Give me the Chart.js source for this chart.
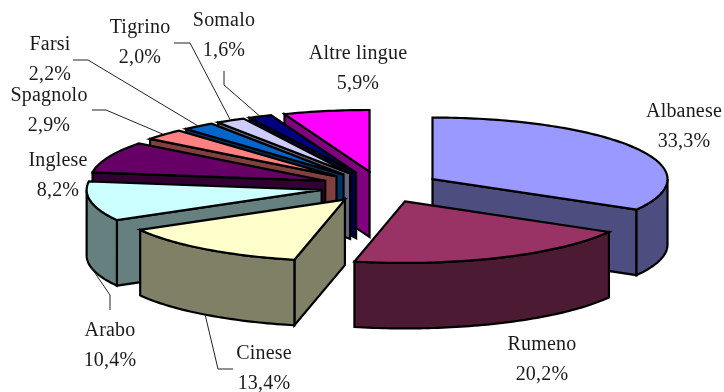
<!DOCTYPE html>
<html>
<head>
<meta charset="utf-8">
<style>html,body{margin:0;padding:0;background:#fff}canvas{display:block}</style>
<script src="https://cdn.jsdelivr.net/npm/chart.js@4"></script>
</head>
<body>
<canvas id="c" width="724" height="392"></canvas>
<script>
const categories = ['Albanese','Rumeno','Cinese','Arabo','Inglese','Spagnolo','Farsi','Tigrino','Somalo','Altre lingue'];
const shares = [33.3,20.2,13.4,10.4,8.2,2.9,2.2,2.0,1.6,5.9];
const topColors = ['#9999FF','#993366','#FFFFCC','#CCFFFF','#660066','#FF8080','#0066CC','#CCCCFF','#000080','#FF00FF'];
const wallColors = ['#4D4D80','#4D1A33','#808066','#668080','#330033','#804040','#003366','#666680','#000040','#800080'];
// label centres [x, y of name line] in page pixels
const labelX = [684,542,264,110,58,49,50,140,224,358];
const labelY = [112,345,354,331,161,96,45,28,21,54];
// leader lines: [start x, start y, elbow x, elbow y] or null
const leaders = [null,null,[233,369,218,369],[110,310,110,295],null,[92,110,106,110],[73,60,88,60],[174,43,190,43],[224,71,224,85],null];

const view = {cx:380.6, cy:187, rx:235, tilt:0.262, explode:60, depth:65.5, lineHeight:29.5};

function rimPoint(a, mid, drop){
  const r = view.rx;
  return {
    x: view.cx + Math.cos(mid)*view.explode + Math.cos(a)*r,
    y: view.cy + (Math.sin(mid)*view.explode + Math.sin(a)*r)*view.tilt + drop
  };
}
function apexPoint(mid, drop){
  return {
    x: view.cx + Math.cos(mid)*view.explode,
    y: view.cy + Math.sin(mid)*view.explode*view.tilt + drop
  };
}
function arcPts(a0, a1, mid, drop){
  const n = Math.max(2, Math.ceil((a1-a0)/0.02));
  const pts = [];
  for(let i=0;i<=n;i++) pts.push(rimPoint(a0+(a1-a0)*i/n, mid, drop));
  return pts;
}
function fillPoly(ctx, pts, fill){
  ctx.beginPath();
  pts.forEach((p,i)=> i?ctx.lineTo(p.x,p.y):ctx.moveTo(p.x,p.y));
  ctx.closePath();
  ctx.fillStyle = fill;
  ctx.fill();
  ctx.stroke();
}
function drawSlice(ctx, arc, i){
  const a0 = arc.startAngle, a1 = arc.endAngle, mid = (a0+a1)/2, d = view.depth;
  const wall = wallColors[i];
  const top = apexPoint(mid,0), bot = apexPoint(mid,d);
  // radial walls that face the viewer
  if(Math.cos(a0) < 0){
    const p = rimPoint(a0,mid,0), q = rimPoint(a0,mid,d);
    fillPoly(ctx,[top,p,q,bot],wall);
  }
  if(Math.cos(a1) > 0){
    const p = rimPoint(a1,mid,0), q = rimPoint(a1,mid,d);
    fillPoly(ctx,[top,p,q,bot],wall);
  }
  // outer wall: parts of the rim on the viewer's side
  const tau = Math.PI*2;
  for(let k=-1;k<=1;k++){
    const s = Math.max(a0, k*tau), e = Math.min(a1, k*tau+Math.PI);
    if(e > s){
      const upper = arcPts(s,e,mid,0);
      const lower = arcPts(s,e,mid,d).reverse();
      fillPoly(ctx, upper.concat(lower), wall);
    }
  }
  // top face
  fillPoly(ctx,[top].concat(arcPts(a0,a1,mid,0)),arc.options.backgroundColor);
}
const pie3d = {
  id:'pie3d',
  beforeDatasetsDraw(chart){
    const ctx = chart.ctx;
    const arcs = chart.getDatasetMeta(0).data;
    ctx.save();
    ctx.strokeStyle = '#000';
    ctx.lineWidth = 2.2;
    ctx.lineJoin = 'miter';
    const order = arcs.map((a,i)=>i).sort((p,q)=>{
      const mp=(arcs[p].startAngle+arcs[p].endAngle)/2, mq=(arcs[q].startAngle+arcs[q].endAngle)/2;
      return Math.sin(mp)-Math.sin(mq);
    });
    order.forEach(i=>drawSlice(ctx,arcs[i],i));
    ctx.restore();
    return false;
  },
  afterDraw(chart){
    const ctx = chart.ctx;
    const arcs = chart.getDatasetMeta(0).data;
    ctx.save();
    // leader lines end on the slice rim
    ctx.strokeStyle = '#222';
    ctx.lineWidth = 1;
    leaders.forEach((l,i)=>{
      if(!l) return;
      const mid = (arcs[i].startAngle+arcs[i].endAngle)/2;
      const end = rimPoint(mid,mid,Math.sin(mid)>0?view.depth:0);
      ctx.beginPath();
      ctx.moveTo(l[0],l[1]);
      ctx.lineTo(l[2],l[3]);
      ctx.lineTo(end.x,end.y);
      ctx.stroke();
    });
    ctx.fillStyle = '#1a1a1a';
    ctx.font = '20px "Liberation Serif"';
    ctx.letterSpacing = '0.2px';
    ctx.textAlign = 'center';
    ctx.textBaseline = 'middle';
    categories.forEach((name,i)=>{
      ctx.fillText(name,labelX[i],labelY[i]);
      ctx.fillText(shares[i].toFixed(1).replace('.',',')+'%',labelX[i],labelY[i]+view.lineHeight);
    });
    ctx.restore();
  }
};
new Chart(document.getElementById('c'),{
  type:'pie',
  data:{labels:categories,datasets:[{data:shares,backgroundColor:topColors,borderColor:'#000',borderWidth:2}]},
  options:{
    responsive:false,
    animation:false,
    layout:{padding:0},
    plugins:{legend:{display:false},tooltip:{enabled:false},title:{display:false}}
  },
  plugins:[pie3d]
});
</script>
</body>
</html>
